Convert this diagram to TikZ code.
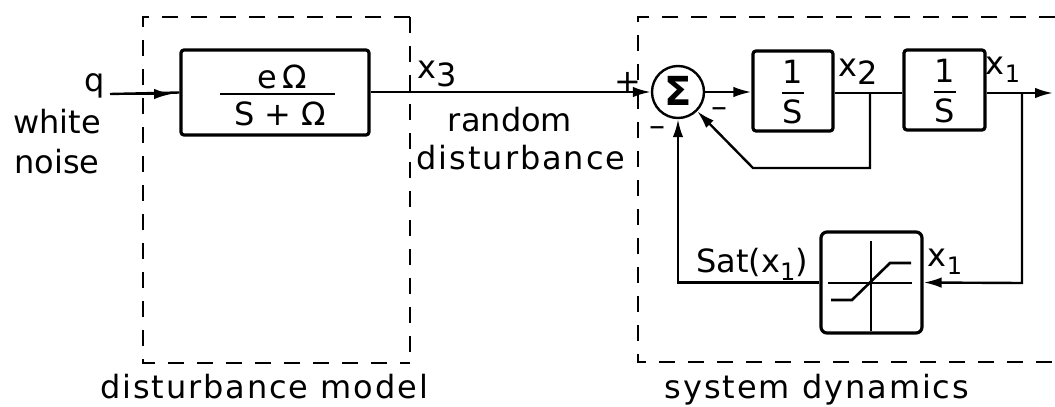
\documentclass[tikz,border=0pt]{standalone}
\usepackage{fontspec}
\setmainfont{DejaVu Sans}
\usetikzlibrary{arrows.meta}
\newcommand\lowidx[1]{\raisebox{-0.45ex}{#1}}
\newcommand\smallidx[1]{\raisebox{-0.45ex}{\fontsize{24}{24}\selectfont #1}}
\tikzset{
  lbl/.style={inner sep=0pt, font=\fontsize{32}{34}\selectfont},
  widelbl/.style={lbl, font=\fontsize{32}{34}\selectfont\addfontfeature{LetterSpace=6}},
  blk/.style={draw, line width=3.2pt, inner sep=0pt, rounded corners=3pt},
  sig/.style={line width=2.4pt},
  arr/.style={sig, -{Latex[length=18pt,width=10.5pt]}},
  frame/.style={line width=2.2pt, dash pattern=on 16pt off 13pt},
}
\begin{document}
\begin{tikzpicture}[x=1pt,y=-1pt]
\useasboundingbox (0,0) rectangle (1055,407);

% dashed frames around the two subsystems
\draw[frame] (410,17) -- (143,17) -- (143,363) -- (410,363);
\draw[frame] (410,17) -- (410,363);
\draw[frame] (1055,17) -- (638,17) -- (638,362) -- (1055,362);

% first-order shaping filter
\node[blk, minimum width=188pt, minimum height=85pt] (D) at (275,92.5) {};
\draw[line width=2.2pt] (220,94) -- (335,94);
\node[lbl] (Dnum) at (282,77) {e\,Ω};
\node[lbl] (Dden) at (280,114) {S + Ω};

% summing junction
\node[blk, circle, minimum size=52pt, line width=2.4pt] (sum) at (678,92) {};
\node[inner sep=0pt, font=\fontsize{40}{40}\selectfont\bfseries] (sigma) at (678,91) {Σ};

% two integrators
\node[blk, minimum width=80pt, minimum height=80pt] (I1) at (793,91) {};
\node[blk, minimum width=81pt, minimum height=80pt] (I2) at (944.5,90) {};
\foreach \b in {I1,I2}{
  \draw[line width=2.2pt] ([xshift=-11pt,yshift=-2pt]\b.center) -- ([xshift=11pt,yshift=-2pt]\b.center);
  \node[lbl] at ([yshift=19pt]\b.center) {1};
  \node[lbl] at ([yshift=-21pt]\b.center) {S};
}

% saturation nonlinearity
\node[blk, minimum width=101pt, minimum height=101pt, rounded corners=6pt] (S) at (871.5,282.5) {};
\draw[line width=2.2pt] (828,283) -- (912,283);
\draw[line width=2.2pt] (871,241) -- (871,331);
\draw[line width=2.6pt] (831,300) -- (852,300) -- (890,263) -- (911,263);

% signal lines
\coordinate (q) at (110,94);
\coordinate (out) at (1053,93);
\coordinate (b2) at (870,93);
\coordinate (b1) at (1022,93);

\draw[sig] (q) -- (D.west);
\draw[arr] (q) -- (172,94);
\draw[arr] (D.east |- sum.west) -- (sum.west);
\draw[arr] (sum.east) -- (I1.west |- sum.east);
\draw[sig] (I1.east |- b2) -- (I2.west |- b2);
\draw[arr] (I2.east |- out) -- (out);
\draw[arr] (b2) -- (870,168) -- (753,168) -- (sum.-45);
\draw[arr] (b1) -- (1022,283) -- (S.east);
\draw[arr] (S.west) -- (sum.south |- S.west) -- (sum.south);

% labels
\node[lbl] (lq) at (95,86) {q};
\node[lbl] (lwhite) at (57,122) {white};
\node[lbl] (lnoise) at (57,162) {noise};
\node[lbl] (lx3) at (437,74) {x\lowidx{3}};
\node[lbl] (lrand) at (510,120) {random};
\node[widelbl] (ldist) at (521,158) {disturbance};
\node[lbl] (lplus) at (628,82) {+};
\node[lbl] (lm1) at (657,132) {–};
\node[lbl] (lm2) at (719,113) {–};
\node[lbl] (lx2) at (858,72) {x\lowidx{2}};
\node[lbl] (lx1a) at (1003,70) {x\smallidx{1}};
\node[lbl] (lx1b) at (945,262) {x\smallidx{1}};
\node[lbl] (lsat) at (752,264) {Sat(x\smallidx{1})};
\node[widelbl, anchor=base] (lmodel) at (264,398) {disturbance model};
\node[widelbl, anchor=base] (lsys) at (817,398) {system dynamics};
\end{tikzpicture}
\end{document}
